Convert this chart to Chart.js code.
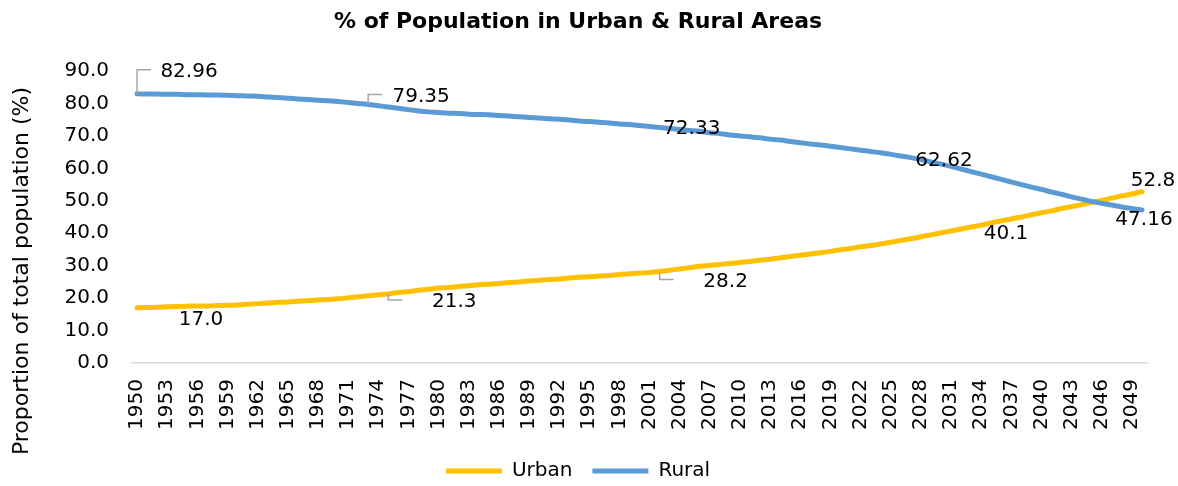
<!DOCTYPE html>
<html>
<head>
<meta charset="utf-8">
<title>% of Population in Urban & Rural Areas</title>
<script src="https://cdn.jsdelivr.net/npm/chart.js@4.4.1/dist/chart.umd.min.js"></script>
<style>
    html, body { margin: 0; padding: 0; background: #ffffff; }
    #wrap { width: 1178px; height: 486px; }
</style>
</head>
<body>
<div id="wrap"><canvas id="popChart" width="1178" height="486"></canvas></div>
<script>
// Categories: one per year
const years = [
    '1950','1951','1952','1953','1954','1955','1956','1957','1958','1959',
    '1960','1961','1962','1963','1964','1965','1966','1967','1968','1969',
    '1970','1971','1972','1973','1974','1975','1976','1977','1978','1979',
    '1980','1981','1982','1983','1984','1985','1986','1987','1988','1989',
    '1990','1991','1992','1993','1994','1995','1996','1997','1998','1999',
    '2000','2001','2002','2003','2004','2005','2006','2007','2008','2009',
    '2010','2011','2012','2013','2014','2015','2016','2017','2018','2019',
    '2020','2021','2022','2023','2024','2025','2026','2027','2028','2029',
    '2030','2031','2032','2033','2034','2035','2036','2037','2038','2039',
    '2040','2041','2042','2043','2044','2045','2046','2047','2048','2049',
    '2050'
];

// Urban share (%)
const urban = [
    17.0, 17.1, 17.2, 17.3, 17.4, 17.5, 17.6, 17.6, 17.7, 17.8,
    17.9, 18.1, 18.3, 18.5, 18.7, 18.8, 19.0, 19.2, 19.4, 19.6,
    19.8, 20.1, 20.4, 20.7, 21.0, 21.3, 21.7, 22.0, 22.4, 22.7,
    23.1, 23.3, 23.6, 23.8, 24.1, 24.3, 24.5, 24.8, 25.0, 25.3,
    25.5, 25.7, 25.9, 26.2, 26.4, 26.6, 26.8, 27.0, 27.3, 27.5,
    27.7, 27.9, 28.2, 28.6, 29.0, 29.4, 29.8, 30.1, 30.4, 30.7,
    31.0, 31.3, 31.7, 32.0, 32.4, 32.8, 33.2, 33.6, 34.0, 34.4,
    34.9, 35.3, 35.8, 36.2, 36.7, 37.2, 37.8, 38.3, 38.9, 39.5,
    40.1, 40.7, 41.3, 41.9, 42.5, 43.2, 43.8, 44.4, 45.0, 45.7,
    46.3, 46.9, 47.6, 48.2, 48.8, 49.5, 50.1, 50.8, 51.5, 52.1,
    52.8
];

// Rural share (%)
const rural = [
    82.96, 82.9, 82.9, 82.8, 82.8, 82.7, 82.7, 82.6, 82.6, 82.5,
    82.4, 82.3, 82.2, 82.0, 81.8, 81.6, 81.4, 81.2, 81.0, 80.8,
    80.6, 80.3, 80.0, 79.7, 79.3, 78.9, 78.5, 78.1, 77.7, 77.4,
    77.2, 77.0, 76.9, 76.7, 76.6, 76.5, 76.3, 76.1, 75.9, 75.7,
    75.5, 75.3, 75.1, 74.9, 74.6, 74.4, 74.2, 74.0, 73.7, 73.5,
    73.2, 72.9, 72.6, 72.3, 72.0, 71.7, 71.4, 71.0, 70.7, 70.3,
    70.0, 69.7, 69.4, 69.0, 68.7, 68.3, 67.9, 67.5, 67.2, 66.8,
    66.4, 66.0, 65.6, 65.2, 64.8, 64.3, 63.8, 63.3, 62.7, 62.0,
    61.3, 60.6, 59.8, 59.0, 58.2, 57.4, 56.6, 55.8, 55.0, 54.2,
    53.5, 52.7, 52.0, 51.2, 50.5, 49.8, 49.2, 48.7, 48.1, 47.6,
    47.16
];

// Data labels shown on the chart
const urbanLabelIdx = [0, 25, 52, 80, 100];
const urbanLabelText = ['17.0', '21.3', '28.2', '40.1', '52.8'];
const ruralLabelIdx = [0, 23, 55, 80, 100];
const ruralLabelText = ['82.96', '79.35', '72.33', '62.62', '47.16'];

// Y axis ticks
const yTicks = [0, 10, 20, 30, 40, 50, 60, 70, 80, 90];

// Label placement (offset of the text centre from its point, in px)
const urbanLabelPos = [
    { dx: 64, dy: 12 },
    { dx: 66, dy: 8, leader: true },
    { dx: 66, dy: 10, leader: true },
    { dx: 65, dy: 1 },
    { dx: 11, dy: -11 }
];
const ruralLabelPos = [
    { dx: 52, dy: -22, leader: true },
    { dx: 53, dy: -8, leader: true },
    { dx: 2, dy: -2 },
    { dx: 3, dy: -3 },
    { dx: 2, dy: 10 }
];

const FONT = "'DejaVu Sans', 'Noto Sans', sans-serif";
const URBAN_COLOR = '#FFC000';
const RURAL_COLOR = '#5B9BD5';

/**
 * Draws the data labels (and the grey leader lines)
 */
const dataLabelPlugin = {
    id: 'dataLabels',
    afterDatasetsDraw: function(chart) {
        const ctx = chart.ctx;
        const sets = [
            { ds: 0, idx: urbanLabelIdx, text: urbanLabelText, pos: urbanLabelPos },
            { ds: 1, idx: ruralLabelIdx, text: ruralLabelText, pos: ruralLabelPos }
        ];
        ctx.save();
        ctx.font = '20px ' + FONT;
        ctx.textAlign = 'center';
        ctx.textBaseline = 'middle';
        sets.forEach(function(set) {
            const meta = chart.getDatasetMeta(set.ds);
            set.idx.forEach(function(i, k) {
                const pt = meta.data[i];
                const p = set.pos[k];
                const lx = pt.x + p.dx;
                const ly = pt.y + p.dy;
                if (p.leader) {
                    ctx.strokeStyle = '#a6a6a6';
                    ctx.lineWidth = 1.5;
                    ctx.beginPath();
                    ctx.moveTo(pt.x, pt.y);
                    ctx.lineTo(pt.x, ly - 2);
                    ctx.lineTo(pt.x + 14, ly - 2);
                    ctx.stroke();
                }
                ctx.fillStyle = '#000000';
                ctx.fillText(set.text[k], lx, ly);
            });
        });
        ctx.restore();
    }
};

/**
 * Y axis title, drawn by hand so it can sit where the original has it
 */
const yTitlePlugin = {
    id: 'yTitle',
    afterDraw: function(chart) {
        const ctx = chart.ctx;
        ctx.save();
        ctx.translate(22, 271);
        ctx.rotate(-Math.PI / 2);
        ctx.font = '22px ' + FONT;
        ctx.fillStyle = '#000000';
        ctx.textAlign = 'center';
        ctx.textBaseline = 'middle';
        ctx.fillText('Proportion of total population (%)', 0, 0);
        ctx.restore();
    }
};

new Chart(document.getElementById('popChart'), {
    type: 'line',
    data: {
        labels: years,
        datasets: [{
            label: 'Urban',
            data: urban,
            borderColor: URBAN_COLOR,
            backgroundColor: URBAN_COLOR,
            borderWidth: 5,
            borderCapStyle: 'round',
            borderJoinStyle: 'round',
            pointRadius: 0,
            cubicInterpolationMode: 'monotone',
            order: 1
        }, {
            label: 'Rural',
            data: rural,
            borderColor: RURAL_COLOR,
            backgroundColor: RURAL_COLOR,
            borderWidth: 5,
            borderCapStyle: 'round',
            borderJoinStyle: 'round',
            pointRadius: 0,
            cubicInterpolationMode: 'monotone',
            order: 0
        }]
    },
    options: {
        responsive: false,
        animation: false,
        devicePixelRatio: 1,
        layout: {
            padding: { left: 0, right: 22, top: 0, bottom: -5 }
        },
        scales: {
            x: {
                offset: true,
                grid: { display: true, drawOnChartArea: false, drawTicks: false },
                border: { display: true, color: '#d9d9d9', width: 1.5 },
                ticks: {
                    autoSkip: false,
                    maxRotation: 90,
                    minRotation: 90,
                    padding: 16,
                    color: '#000000',
                    font: { family: FONT, size: 20 },
                    callback: function(value, index) {
                        return index % 3 === 0 ? years[index] : '';
                    }
                },
                afterFit: function(scale) {
                    scale.height = 78;
                    scale.paddingLeft = 0;
                    scale.paddingRight = 31;
                }
            },
            y: {
                min: 0,
                max: 90,
                grid: { display: true, drawOnChartArea: false, drawTicks: false },
                border: { display: false },
                afterBuildTicks: function(scale) {
                    scale.ticks = yTicks.map(function(v) { return { value: v }; });
                },
                ticks: {
                    padding: 23,
                    color: '#000000',
                    font: { family: FONT, size: 20 },
                    callback: function(value) {
                        return Number(value).toFixed(1);
                    }
                },
                afterFit: function(scale) {
                    scale.width = 132;
                }
            }
        },
        plugins: {
            title: {
                display: true,
                text: '% of Population in Urban & Rural Areas',
                color: '#000000',
                font: { family: FONT, size: 22, weight: 'bold' },
                padding: { top: 9, bottom: 35.6 }
            },
            legend: {
                position: 'bottom',
                labels: {
                    usePointStyle: true,
                    pointStyle: 'line',
                    pointStyleWidth: 56,
                    padding: 20,
                    color: '#000000',
                    font: { family: FONT, size: 20 },
                    sort: function(a, b) { return a.datasetIndex - b.datasetIndex; }
                }
            },
            tooltip: { enabled: false }
        }
    },
    plugins: [dataLabelPlugin, yTitlePlugin]
});
</script>
</body>
</html>
